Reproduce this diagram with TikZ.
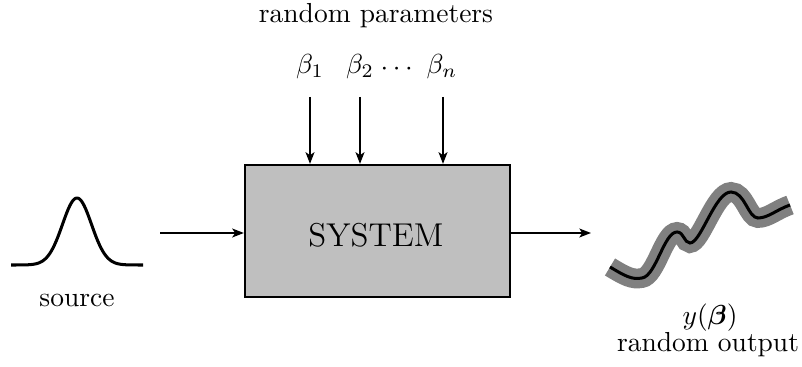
\documentclass[tikz,border=0pt]{standalone}
\usepackage{amsmath}
\usetikzlibrary{arrows.meta}
\begin{document}
\begin{tikzpicture}[x=0.3636pt,y=-0.3636pt,
  conn/.style={line width=0.75pt,-{Stealth[length=4.2pt,width=3.2pt,inset=1pt]}},
  sysbox/.style={draw,line width=0.8pt,fill=black!25,minimum width=265*0.3636pt,minimum height=132*0.3636pt,inner sep=0pt},
  lbl/.style={inner sep=0pt}]
\useasboundingbox (0,0) rectangle (802,367);
% box
\node[sysbox] (sys) at (377.5,231) {};
\node[lbl,font=\large] (syst) at (376,235) {SYSTEM};
% top labels
\node[lbl] (rp) at (376,16) {random parameters};
\node[lbl] (b1) at (310,67) {$\beta_1$};
\node[lbl] (b2) at (360,67) {$\beta_2$};
\node[lbl] (dots) at (399,69) {$\cdots$};
\node[lbl] (bn) at (442,67) {$\beta_n$};
\coordinate (t1) at (310,97);
\coordinate (t2) at (360,97);
\coordinate (tn) at (443,97);
\draw[conn] (t1) -- (t1 |- sys.north);
\draw[conn] (t2) -- (t2 |- sys.north);
\draw[conn] (tn) -- (tn |- sys.north);
% input / output arrows
\coordinate (inS) at (160,233);
\draw[conn] (inS) -- (inS -| sys.west);
\coordinate (outE) at (591,233);
\draw[conn] (outE -| sys.east) -- (outE);
% gaussian source
\draw[line width=1.1pt] plot[domain=11:143,samples=120,smooth] (\x,{265-67*exp(-((\x-77)^2)/(2*14.5^2))});
\node[lbl] (src) at (77,300) {source};
% random output
\def\wavepath{(610,267) .. controls (625,276) and (632,280) .. (642,278)
 .. controls (656,276) and (664,232) .. (677,232)
 .. controls (684,232) and (684,243) .. (690,243)
 .. controls (701,243) and (715,192) .. (731,192)
 .. controls (745,192) and (748,218) .. (758,218)
 .. controls (768,218) and (776,210) .. (790,205)}
\draw[line width=7.2pt,color=black!50,line cap=butt] \wavepath;
\draw[line width=1.1pt] \wavepath;
\node[lbl] (ylab) at (710,318) {$y(\boldsymbol{\beta})$};
\node[lbl] (rout) at (708,345) {random output};
\end{tikzpicture}
\end{document}
